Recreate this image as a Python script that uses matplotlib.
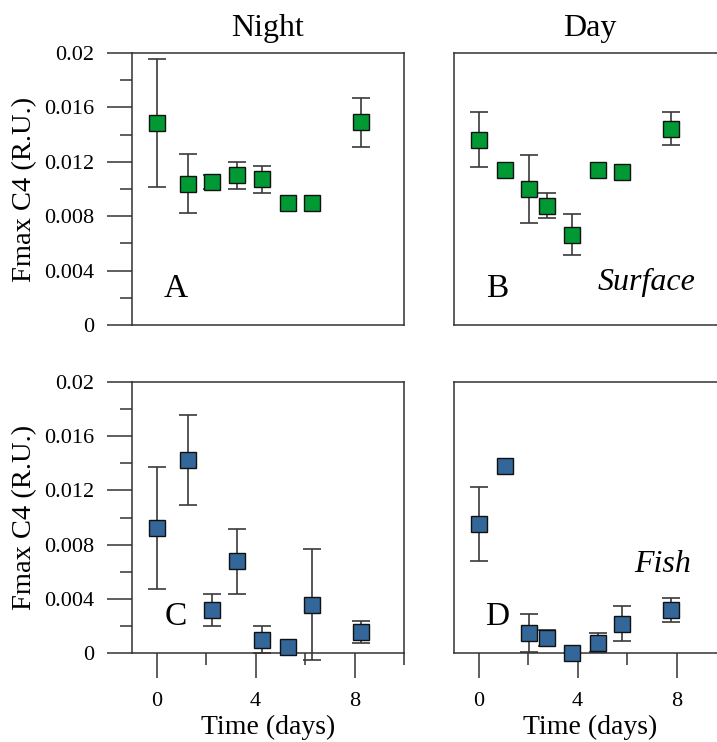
import matplotlib
matplotlib.use('Agg')
import matplotlib.pyplot as plt
from matplotlib.ticker import FixedLocator

plt.rcParams['font.family'] = ['Liberation Serif', 'DejaVu Serif']

# panel A: night, surface
a_day = [0, 1.25, 2.25, 3.25, 4.25, 5.3, 6.27, 8.28]
a_val = [0.01485, 0.0104, 0.0105, 0.0110, 0.0107, 0.0090, 0.0090, 0.0149]
a_err = [0.0047, 0.0022, 0.0005, 0.0010, 0.0010, 0, 0, 0.0018]

# panel B: day, surface
b_day = [0, 1.05, 2.05, 2.75, 3.76, 4.81, 5.78, 7.76]
b_val = [0.01363, 0.01137, 0.0100, 0.00877, 0.00664, 0.01142, 0.01125, 0.01444]
b_err = [0.0020, 0, 0.0025, 0.0009, 0.0015, 0, 0, 0.0012]

# panel C: night, fish
c_day = [0, 1.26, 2.25, 3.24, 4.25, 5.3, 6.27, 8.28]
c_val = [0.0092, 0.01424, 0.00317, 0.00677, 0.00098, 0.00045, 0.00357, 0.00155]
c_err = [0.0045, 0.0033, 0.0012, 0.0024, 0.0010, 0, 0.0041, 0.0008]

# panel D: day, fish
d_day = [0, 1.05, 2.05, 2.75, 3.76, 4.81, 5.78, 7.76]
d_val = [0.00952, 0.01382, 0.00148, 0.00112, 0.0, 0.00075, 0.00215, 0.00318]
d_err = [0.0027, 0, 0.0014, 0.0006, 0, 0.0007, 0.0013, 0.0009]

y_ticks = [0, 0.004, 0.008, 0.012, 0.016, 0.02]
y_ticklabels = ['0', '0.004', '0.008', '0.012', '0.016', '0.02']
x_ticks = [0, 4, 8]

green = '#009933'
blue = '#336699'
axcol = '#333333'

fig = plt.figure(figsize=(7.17, 7.42), dpi=100)
W, H = 717, 742


def make_ax(left, top, width, height):
    return fig.add_axes([left / W, (H - top - height) / H, width / W, height / H])


axA = make_ax(132, 53, 272, 272)
axB = make_ax(454, 53, 272, 272)
axC = make_ax(132, 382, 272, 271)
axD = make_ax(454, 382, 272, 271)

panels = [
    (axA, a_day, a_val, a_err, green, 'A', True, False),
    (axB, b_day, b_val, b_err, green, 'B', False, False),
    (axC, c_day, c_val, c_err, blue, 'C', True, True),
    (axD, d_day, d_val, d_err, blue, 'D', False, True),
]

for ax, days, vals, errs, col, letter, left, bottom in panels:
    # only points that have a spread get an error bar
    ed = [d for d, e in zip(days, errs) if e > 0]
    ev = [v for v, e in zip(vals, errs) if e > 0]
    ee = [e for e in errs if e > 0]
    eb = ax.errorbar(ed, ev, yerr=ee, fmt='none', ecolor='#3a3a3a',
                     elinewidth=1.2, capsize=6.5, capthick=1.2, zorder=2)
    for art in eb.lines[1] + eb.lines[2]:
        art.set_clip_on(False)
    ax.plot(days, vals, 's', color=col, markersize=11,
            markeredgecolor='#111111', markeredgewidth=1.0, zorder=3, clip_on=False)
    ax.set_xlim(-1, 10)
    ax.set_ylim(0, 0.02)
    for sp in ax.spines.values():
        sp.set_color(axcol)
        sp.set_linewidth(1.1)
    if left:
        ax.yaxis.set_major_locator(FixedLocator(y_ticks))
        ax.set_yticklabels(y_ticklabels)
        ax.yaxis.set_minor_locator(FixedLocator([0.002, 0.006, 0.010, 0.014, 0.018]))
        ax.tick_params(axis='y', which='major', direction='out', length=18,
                       width=1.1, color=axcol, labelsize=16, pad=9)
        ax.tick_params(axis='y', which='minor', direction='out', length=8.6,
                       width=1.1, color=axcol)
        ax.set_ylabel('Fmax C4 (R.U.)', fontsize=20.5, labelpad=5)
    else:
        ax.set_yticks([])
    if bottom:
        ax.xaxis.set_major_locator(FixedLocator(x_ticks))
        ax.xaxis.set_minor_locator(FixedLocator([2, 6, 10]))
        ax.tick_params(axis='x', which='major', direction='out', length=18,
                       width=1.1, color=axcol, labelsize=16, pad=10)
        ax.tick_params(axis='x', which='minor', direction='out', length=8.6,
                       width=1.1, color=axcol)
        ax.set_xlabel('Time (days)', fontsize=20, labelpad=3)
    else:
        ax.set_xticks([])
    ax.text(0.75, 0.0027, letter, fontsize=24, ha='center', va='center')

axA.set_title('Night', fontsize=23, pad=12)
axB.set_title('Day', fontsize=23, pad=12)
axB.text(6.8, 0.0031, 'Surface', fontsize=23, style='italic', ha='center', va='center')
axD.text(7.45, 0.0065, 'Fish', fontsize=23, style='italic', ha='center', va='center')

fig.savefig('out.png', dpi=100)
